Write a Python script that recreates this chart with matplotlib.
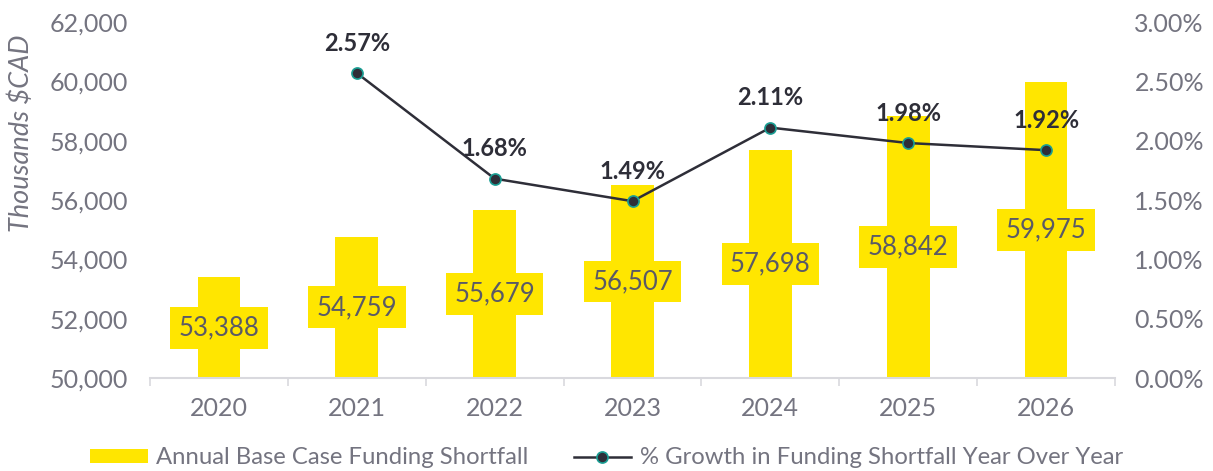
import matplotlib
matplotlib.use("Agg")
import matplotlib.pyplot as plt
from matplotlib.ticker import FuncFormatter, MultipleLocator

years = ["2020", "2021", "2022", "2023", "2024", "2025", "2026"]
shortfall = [53388, 54759, 55679, 56507, 57698, 58842, 59975]
growth_years = ["2021", "2022", "2023", "2024", "2025", "2026"]
growth_pct = [2.57, 1.68, 1.49, 2.11, 1.98, 1.92]

YELLOW = "#FFE600"
GREY = "#747480"
DARK = "#2E2E38"
TEAL = "#1A9F94"

plt.rcParams["font.family"] = ["Lato", "DejaVu Sans"]

fig = plt.figure(figsize=(12.13, 4.71), dpi=100)
ax = fig.add_axes([150 / 1213, 93 / 471, 965 / 1213, 356 / 471])
ax2 = ax.twinx()

x = list(range(len(years)))
ax.bar(x, shortfall, width=0.31, color=YELLOW, zorder=2,
       label="Annual Base Case Funding Shortfall")
ax.set_ylim(50000, 62000)
ax.set_xlim(-0.5, len(years) - 0.5)
ax.yaxis.set_major_locator(MultipleLocator(2000))
ax.yaxis.set_major_formatter(FuncFormatter(lambda v, p: f"{v:,.0f}"))

for xi, v in zip(x, shortfall):
    ax.text(xi, (50000 + v) / 2, f"{v:,}", ha="center", va="center",
            fontsize=18.5, color="#5A5A66", zorder=3,
            bbox=dict(boxstyle="square,pad=0.33", fc=YELLOW, ec="none"))

gx = [years.index(y) for y in growth_years]
ax2.plot(gx, growth_pct, color=DARK, lw=1.8, marker="o", markersize=8,
         markerfacecolor=DARK, markeredgecolor=TEAL, markeredgewidth=1.2,
         zorder=4, label="% Growth in Funding Shortfall Year Over Year")
ax2.set_ylim(0, 3.0)
ax2.yaxis.set_major_locator(MultipleLocator(0.5))
ax2.yaxis.set_major_formatter(FuncFormatter(lambda v, p: f"{v:.2f}%"))
for xi, v in zip(gx, growth_pct):
    ax2.annotate(f"{v:.2f}%", (xi, v), xytext=(0, 21.5), textcoords="offset points",
                 ha="center", va="center", fontsize=17, fontweight="bold",
                 color=DARK)

ax.set_xticks(x)
ax.set_xticklabels(years)
ax.set_xticks([i - 0.5 for i in range(len(years) + 1)], minor=True)
ax.tick_params(axis="x", which="major", length=0, pad=14, labelsize=18, labelcolor=GREY)
ax.tick_params(axis="x", which="minor", length=6, color="#D9D9DE", width=1.2)
ax.tick_params(axis="y", length=0, labelsize=18, labelcolor=GREY, pad=16)
ax2.tick_params(axis="y", length=0, labelsize=18, labelcolor=GREY, pad=14)

for a in (ax, ax2):
    for s in a.spines.values():
        s.set_visible(False)
ax.spines["bottom"].set_visible(True)
ax.spines["bottom"].set_color("#D9D9DE")
ax.spines["bottom"].set_linewidth(1.5)

ax.set_ylabel("Thousands $CAD", fontsize=19.5, color=GREY, style="italic")
ax.yaxis.set_label_coords(-116 / 965, 0.688)

h1, l1 = ax.get_legend_handles_labels()
h2, l2 = ax2.get_legend_handles_labels()
fig.legend(h1 + h2, l1 + l2, loc="lower center", bbox_to_anchor=(0.5, -0.04),
           ncol=2, frameon=False, fontsize=17.2, labelcolor=GREY,
           handlelength=2.4, handleheight=0.5, columnspacing=1.9, handletextpad=0.35)

fig.savefig("out.png", dpi=100)
